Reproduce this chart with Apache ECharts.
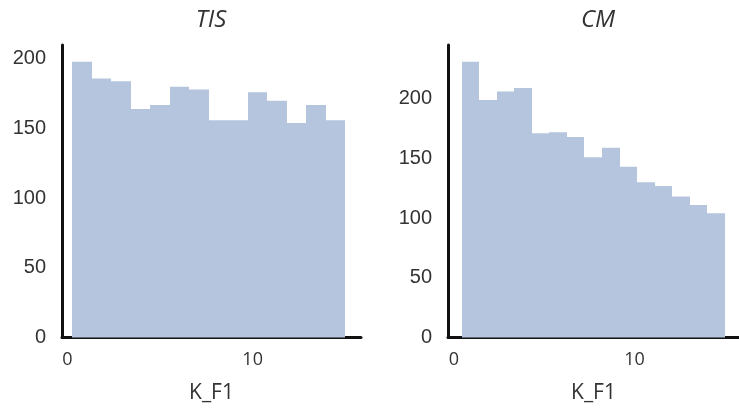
<!DOCTYPE html>
<html>
<head>
<meta charset="utf-8">
<script src="https://cdn.jsdelivr.net/npm/echarts@6/dist/echarts.min.js"></script>
<style>
  html, body { margin: 0; padding: 0; background: #fff; }
  #chart { width: 739px; height: 409px; }
</style>
</head>
<body>
<div id="chart"></div>
<script>
// Histogram of K_F1 for two groups: bin edges and counts per bin.
const tisEdges = [0.27, 1.32, 2.37, 3.43, 4.48, 5.53, 6.58, 7.63, 8.69, 9.74, 10.79, 11.84, 12.89, 13.95, 15.0];
const tisCounts = [198, 186, 184, 164, 167, 180, 178, 156, 156, 176, 170, 154, 167, 156];

const cmEdges = [0.43, 1.40, 2.37, 3.34, 4.31, 5.28, 6.25, 7.22, 8.20, 9.17, 10.14, 11.11, 12.08, 13.05, 14.02, 14.99];
const cmCounts = [231, 199, 206, 209, 171, 172, 168, 151, 159, 143, 130, 127, 118, 111, 104];

const panelTitles = ['TIS', 'CM'];
const xTickValues = [0, 10];
const yTickValues = [0, 50, 100, 150, 200];
const xAxisName = 'K_F1';

const barColor = '#b5c5de';
const textColor = '#333333';

function toBins(edges, counts) {
  return counts.map((c, i) => [edges[i], edges[i + 1], c]);
}

// Snap bin edges to whole pixels so neighbouring bins join without seams.
function renderBin(params, api) {
  const p0 = api.coord([api.value(0), api.value(2)]);
  const p1 = api.coord([api.value(1), 0]);
  const x0 = Math.round(p0[0]);
  const x1 = Math.round(p1[0]);
  return {
    type: 'rect',
    shape: { x: x0, y: p0[1], width: x1 - x0, height: p1[1] - p0[1] },
    style: { fill: barColor }
  };
}

const axisLineStyle = { show: true, onZero: false, lineStyle: { color: '#111', width: 3 } };

function xAxis(gridIndex, min, max) {
  return {
    type: 'value', gridIndex, min, max,
    name: xAxisName, nameLocation: 'middle', nameGap: 45,
    nameTextStyle: { fontFamily: 'Open Sans', fontSize: 21, color: textColor },
    axisLine: axisLineStyle,
    axisTick: { show: false },
    splitLine: { show: false },
    axisLabel: { customValues: xTickValues, fontFamily: 'Open Sans', fontSize: 18, color: textColor, margin: 13 }
  };
}

function yAxis(gridIndex, max) {
  return {
    type: 'value', gridIndex, min: 0, max,
    axisLine: axisLineStyle,
    axisTick: { show: false },
    splitLine: { show: false },
    axisLabel: { customValues: yTickValues, fontFamily: 'Liberation Sans', fontSize: 20, color: textColor, margin: 16 }
  };
}

const chart = echarts.init(document.getElementById('chart'), null, { renderer: 'canvas' });

chart.setOption({
  animation: false,
  grid: [
    { left: 62, top: 45, width: 299, height: 292.5 },
    { left: 448, top: 45, width: 299, height: 292.5 }
  ],
  xAxis: [xAxis(0, -0.29, 15.85), xAxis(1, -0.32, 15.78)],
  yAxis: [yAxis(0, 210), yAxis(1, 245)],
  graphic: [
    { type: 'text', x: 211, y: 8, style: { text: panelTitles[0], textAlign: 'center', fontFamily: 'Open Sans', fontStyle: 'italic', fontSize: 24, fill: textColor } },
    { type: 'text', x: 598, y: 8, style: { text: panelTitles[1], textAlign: 'center', fontFamily: 'Open Sans', fontStyle: 'italic', fontSize: 24, fill: textColor } }
  ],
  series: [
    { type: 'custom', name: panelTitles[0], xAxisIndex: 0, yAxisIndex: 0, renderItem: renderBin, data: toBins(tisEdges, tisCounts), encode: { x: [0, 1], y: 2 } },
    { type: 'custom', name: panelTitles[1], xAxisIndex: 1, yAxisIndex: 1, renderItem: renderBin, data: toBins(cmEdges, cmCounts), encode: { x: [0, 1], y: 2 } }
  ]
});
</script>
</body>
</html>
